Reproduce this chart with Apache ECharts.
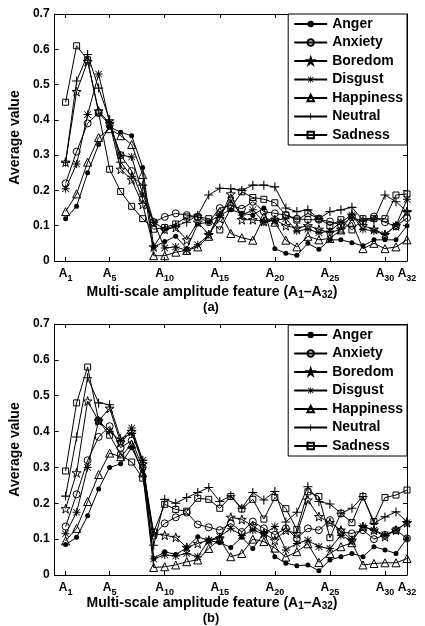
<!DOCTYPE html>
<html><head><meta charset="utf-8">
<script src="https://cdn.jsdelivr.net/npm/echarts@6/dist/echarts.min.js"></script>
<style>html,body{margin:0;padding:0;background:#fff}#c{width:425px;height:626px}</style>
</head><body><div id="c"></div>
<script>
const featureIdx = [1,2,3,4,5,6,7,8,9,10,11,12,13,14,15,16,17,18,19,20,21,22,23,24,25,26,27,28,29,30,31,32];
const tickValues = [1,5,10,15,20,25,30,32];
const yTicks = [0,0.1,0.2,0.3,0.4,0.5,0.6,0.7];
const emotions = ['Anger','Anxiety','Boredom','Disgust','Happiness','Neutral','Sadness'];

// Panel (a)
const angerA     = [0.12,0.155,0.25,0.33,0.38,0.365,0.355,0.265,0.04,0.055,0.07,0.035,0.105,0.11,0.13,0.145,0.135,0.13,0.15,0.035,0.022,0.016,0.05,0.033,0.06,0.06,0.052,0.043,0.06,0.06,0.06,0.1];
const anxietyA   = [0.22,0.31,0.39,0.42,0.385,0.30,0.255,0.175,0.11,0.125,0.135,0.13,0.125,0.11,0.15,0.157,0.148,0.168,0.14,0.135,0.13,0.12,0.117,0.117,0.112,0.102,0.124,0.112,0.126,0.11,0.098,0.122];
const boredomA   = [0.28,0.48,0.565,0.425,0.39,0.26,0.23,0.16,0.04,0.09,0.095,0.06,0.11,0.075,0.12,0.19,0.117,0.117,0.112,0.117,0.1,0.093,0.1,0.09,0.08,0.09,0.13,0.1,0.09,0.075,0.1,0.14];
const disgustA   = [0.205,0.275,0.415,0.53,0.39,0.30,0.295,0.19,0.11,0.037,0.04,0.03,0.046,0.075,0.13,0.17,0.13,0.145,0.11,0.115,0.12,0.085,0.09,0.08,0.085,0.11,0.13,0.09,0.085,0.075,0.1,0.175];
const happinessA = [0.14,0.19,0.28,0.35,0.375,0.355,0.33,0.245,0.015,0.015,0.025,0.03,0.04,0.07,0.14,0.078,0.066,0.059,0.125,0.11,0.059,0.04,0.07,0.06,0.064,0.088,0.11,0.035,0.05,0.035,0.04,0.06];
const neutralA   = [0.28,0.51,0.585,0.49,0.40,0.28,0.24,0.215,0.11,0.09,0.1,0.11,0.13,0.187,0.206,0.205,0.2,0.215,0.215,0.21,0.15,0.14,0.145,0.12,0.14,0.145,0.152,0.116,0.116,0.187,0.168,0.14];
const sadnessA   = [0.45,0.61,0.57,0.42,0.26,0.197,0.155,0.12,0.09,0.095,0.105,0.125,0.125,0.12,0.088,0.15,0.196,0.18,0.175,0.165,0.13,0.116,0.135,0.12,0.1,0.117,0.088,0.12,0.12,0.12,0.187,0.19];

// Panel (b)
const angerB     = [0.085,0.105,0.165,0.24,0.30,0.31,0.355,0.29,0.046,0.065,0.057,0.076,0.107,0.096,0.09,0.077,0.105,0.074,0.116,0.051,0.033,0.026,0.028,0.012,0.042,0.051,0.06,0.051,0.079,0.07,0.06,0.102];
const anxietyB   = [0.135,0.225,0.32,0.385,0.415,0.355,0.375,0.30,0.11,0.144,0.161,0.174,0.141,0.133,0.125,0.144,0.12,0.149,0.13,0.112,0.13,0.102,0.13,0.125,0.153,0.12,0.116,0.125,0.1,0.112,0.125,0.102];
const boredomB   = [0.185,0.285,0.485,0.43,0.465,0.37,0.40,0.31,0.115,0.111,0.105,0.077,0.088,0.097,0.102,0.161,0.155,0.137,0.116,0.097,0.125,0.115,0.209,0.163,0.146,0.125,0.097,0.135,0.125,0.107,0.125,0.146];
const disgustB   = [0.115,0.175,0.30,0.43,0.40,0.375,0.41,0.32,0.045,0.056,0.053,0.06,0.051,0.097,0.107,0.13,0.11,0.125,0.115,0.135,0.07,0.088,0.097,0.079,0.074,0.11,0.095,0.135,0.125,0.112,0.125,0.146];
const happinessB = [0.095,0.13,0.205,0.28,0.34,0.33,0.365,0.285,0.021,0.023,0.028,0.037,0.042,0.074,0.1,0.051,0.06,0.1,0.093,0.075,0.05,0.065,0.087,0.035,0.06,0.079,0.09,0.028,0.032,0.034,0.034,0.046];
const neutralB   = [0.22,0.385,0.55,0.48,0.475,0.38,0.395,0.32,0.083,0.211,0.2,0.216,0.23,0.244,0.205,0.221,0.186,0.23,0.209,0.233,0.148,0.175,0.246,0.205,0.198,0.172,0.186,0.219,0.144,0.162,0.176,0.149];
const sadnessB   = [0.29,0.48,0.58,0.43,0.39,0.335,0.315,0.27,0.12,0.197,0.183,0.178,0.214,0.211,0.186,0.219,0.184,0.211,0.156,0.216,0.185,0.127,0.232,0.219,0.104,0.172,0.146,0.219,0.149,0.216,0.223,0.237];

const panelA = [angerA, anxietyA, boredomA, disgustA, happinessA, neutralA, sadnessA];
const panelB = [angerB, anxietyB, boredomB, disgustB, happinessB, neutralB, sadnessB];

const STAR = 'path://M5,0 L6.123,3.455 L9.755,3.455 L6.816,5.59 L7.939,9.045 L5,6.91 L2.061,9.045 L3.184,5.59 L0.245,3.455 L3.877,3.455 Z';
const PLUS = 'path://M4.4,0 h1.2 v10 h-1.2 z M0,4.4 h10 v1.2 h-10 z';
const AST = 'path://M4.4,0 h1.2 v10 h-1.2 z M0,4.4 h10 v1.2 h-10 z M0.5,1.2 L1.2,0.5 L9.5,8.8 L8.8,9.5 Z M8.8,0.5 L9.5,1.2 L1.2,9.5 L0.5,8.8 Z';
const CLEAR = 'rgba(255,255,255,0)';
const styles = [
  {symbol:'circle', size:5, fill:'#000', border:0},
  {symbol:'circle', size:7, fill:CLEAR, border:1},
  {symbol:STAR, size:9, fill:CLEAR, border:1},
  {symbol:AST, size:8, fill:'#000', border:0},
  {symbol:'triangle', size:8, fill:CLEAR, border:1},
  {symbol:PLUS, size:9, fill:'#000', border:0},
  {symbol:'rect', size:6, fill:CLEAR, border:1}
];

const FONT = 'Liberation Sans';
const grids = [
  {left:52, top:14, width:355, height:247},
  {left:52, top:324, width:355, height:251}
];

const xAxes = [], yAxes = [];
for (let g = 0; g < 2; g++) {
  xAxes.push({
    type:'value', gridIndex:g, min:0, max:32, position:'bottom',
    axisLine:{show:true, onZero:false, lineStyle:{color:'#000', width:1}},
    axisTick:{show:true, inside:true, length:4, customValues:tickValues, lineStyle:{color:'#000'}},
    splitLine:{show:false},
    axisLabel:{show:true, customValues:tickValues, margin:4, color:'#000',
      formatter: v => '{a|A}{s|' + v + '}',
      rich:{a:{fontFamily:FONT, fontWeight:'bold', fontSize:12, color:'#000'},
            s:{fontFamily:FONT, fontWeight:'bold', fontSize:9, color:'#000', padding:[9,0,0,0]}}}
  });
  xAxes.push({
    type:'value', gridIndex:g, min:0, max:32, position:'top',
    axisLine:{show:true, onZero:false, lineStyle:{color:'#000', width:1}},
    axisTick:{show:true, inside:true, length:4, customValues:tickValues, lineStyle:{color:'#000'}},
    splitLine:{show:false}, axisLabel:{show:false}
  });
  yAxes.push({
    type:'value', gridIndex:g, min:0, max:0.7, interval:0.1, position:'left',
    name:'Average value', nameLocation:'middle', nameGap:26, nameRotate:90,
    nameTextStyle:{fontFamily:FONT, fontWeight:'bold', fontSize:14, color:'#000'},
    axisLine:{show:true, onZero:false, lineStyle:{color:'#000', width:1}},
    axisTick:{show:true, inside:true, length:4, lineStyle:{color:'#000'}},
    splitLine:{show:false},
    axisLabel:{fontFamily:FONT, fontWeight:'bold', fontSize:12, color:'#000', margin:5,
      formatter: v => (Math.abs(v) < 1e-9 ? '0' : v.toFixed(1))}
  });
  yAxes.push({
    type:'value', gridIndex:g, min:0, max:0.7, interval:0.1, position:'right',
    axisLine:{show:true, onZero:false, lineStyle:{color:'#000', width:1}},
    axisTick:{show:true, inside:true, length:4, lineStyle:{color:'#000'}},
    splitLine:{show:false}, axisLabel:{show:false}
  });
}

const series = [];
[panelA, panelB].forEach((panel, p) => {
  panel.forEach((vals, k) => {
    const st = styles[k];
    series.push({
      name: emotions[k], type:'line',
      xAxisIndex: p*2, yAxisIndex: p*2,
      data: vals.map((v, j) => [featureIdx[j], v]),
      symbol: st.symbol, symbolSize: st.size, showAllSymbol:true,
      lineStyle:{color:'#000', width:1},
      itemStyle:{color: st.fill, borderColor:'#000', borderWidth: st.border},
      emphasis:{disabled:true}, z: 2 + k
    });
  });
});

const legendBase = {
  orient:'vertical', right:18, data: emotions,
  backgroundColor:'#fff', borderColor:'#000', borderWidth:1,
  padding:[3,4,3,5], itemGap:4.5, itemWidth:33, itemHeight:8,
  textStyle:{fontFamily:FONT, fontWeight:'bold', fontSize:14, color:'#000'},
  selectedMode:false
};

const subRich = {s:{fontFamily:FONT, fontWeight:'bold', fontSize:10, color:'#000', padding:[6,0,0,0]}};
const xTitle = y => ({type:'text', x:212, y:y, style:{
  text:'Multi-scale amplitude feature (A{s|1}–A{s|32})',
  fontFamily:FONT, fontWeight:'bold', fontSize:14, fill:'#000',
  align:'center', verticalAlign:'middle', rich:subRich}});
const tag = (t, y) => ({type:'text', x:211, y:y, style:{text:t, fontFamily:FONT, fontWeight:'bold', fontSize:13, fill:'#000', align:'center', verticalAlign:'middle'}});

const chart = echarts.init(document.getElementById('c'), null, {renderer:'canvas'});
chart.setOption({
  animation:false,
  backgroundColor:'#fff',
  grid: grids,
  xAxis: xAxes,
  yAxis: yAxes,
  legend: [Object.assign({}, legendBase, {top:14}), Object.assign({}, legendBase, {top:325})],
  series: series,
  graphic: [xTitle(292), tag('(a)', 307), xTitle(603), tag('(b)', 618)]
});
</script></body></html>
